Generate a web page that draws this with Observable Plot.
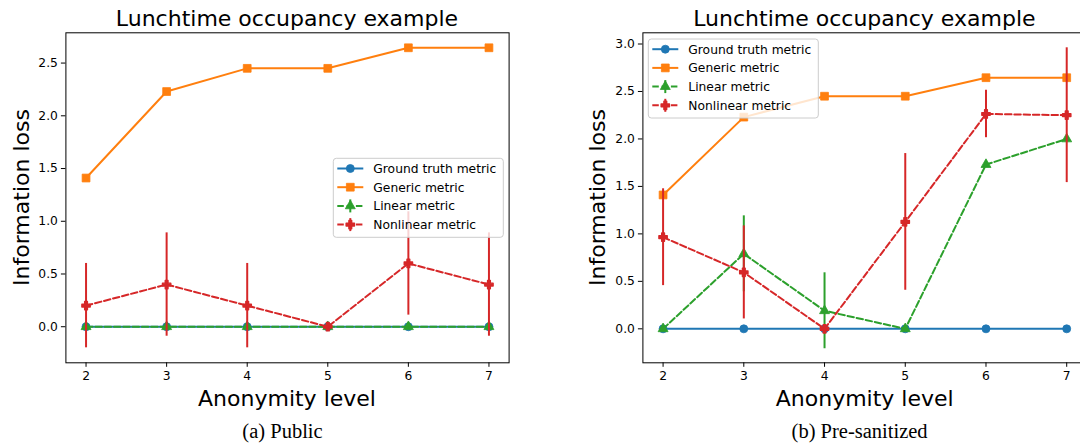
<!DOCTYPE html>
<html><head><meta charset="utf-8">
<script src="https://cdn.jsdelivr.net/npm/d3@7"></script>
<script src="https://cdn.jsdelivr.net/npm/@observablehq/plot@0.6"></script>
<style>
html,body{margin:0;padding:0;background:#fff;overflow:hidden;}
#wrap{position:relative;width:1080px;height:444px;overflow:hidden;font-family:"DejaVu Sans",sans-serif;}
.panel{position:absolute;top:0;height:444px;}
.panel svg{position:absolute;left:0;top:0;}
#overlay{position:absolute;left:0;top:0;pointer-events:none;}
</style></head>
<body><div id="wrap"></div>
<script>
// ---------- data ----------
const levels = [2, 3, 4, 5, 6, 7];
const seriesNames = ["Ground truth metric", "Generic metric", "Linear metric", "Nonlinear metric"];
const seriesColors = ["#1f77b4", "#ff7f0e", "#2ca02c", "#d62728"];
const seriesSymbols = ["circle", "square", "triangle", "cross"];
const seriesDashed = [false, false, true, true];
const seriesErrorBars = [false, false, true, true];

const chartTitle = "Lunchtime occupancy example";
const xLabel = "Anonymity level";
const yLabel = "Information loss";
const captions = ["(a) Public", "(b) Pre-sanitized"];

const yTicksPublic = [0, 0.5, 1, 1.5, 2, 2.5];
const yTicksPre = [0, 0.5, 1, 1.5, 2, 2.5, 3];

// (a) Public
const publicGround = [0, 0, 0, 0, 0, 0];
const publicGeneric = [1.41, 2.23, 2.45, 2.45, 2.645, 2.645];
const publicLinear = [0, 0, 0, 0, 0, 0];
const publicLinearErr = [0, 0, 0, 0, 0, 0];
const publicNonlinear = [0.2, 0.4, 0.2, 0, 0.6, 0.4];
const publicNonlinearErr = [0.4, 0.49, 0.4, 0, 0.49, 0.49];

// (b) Pre-sanitized
const preGround = [0, 0, 0, 0, 0, 0];
const preGeneric = [1.41, 2.23, 2.45, 2.45, 2.645, 2.645];
const preLinear = [0, 0.79, 0.19, 0, 1.73, 2.0];
const preLinearErr = [0, 0.4, 0.4, 0, 0, 0];
const preNonlinear = [0.965, 0.594, 0, 1.126, 2.263, 2.25];
const preNonlinearErr = [0.51, 0.49, 0, 0.72, 0.25, 0.71];

// ---------- layout ----------
const markerR = [4.0, 4.4, 3.7, 3.5];
const markerStroke = [0.8, 0.8, 0.8, 1.4];
const lineW = 2;
const dash = "6.5,2.8";

function rows(values, errs) {
  return levels.map((x, i) => ({x, y: values[i], err: errs ? errs[i] : 0}));
}

function makePanel(seriesRows, yDomain, yTicks, opts) {
  const marks = [];
  seriesRows.forEach((data, i) => {
    const col = seriesColors[i];
    if (seriesErrorBars[i]) {
      marks.push(Plot.ruleX(data.filter(d => d.err > 0), {
        x: "x", y1: d => d.y - d.err, y2: d => d.y + d.err,
        stroke: col, strokeWidth: lineW
      }));
    }
    marks.push(Plot.line(data, {
      x: "x", y: "y", stroke: col, strokeWidth: lineW,
      strokeDasharray: seriesDashed[i] ? dash : null
    }));
    marks.push(Plot.dot(data, {
      x: "x", y: "y", r: markerR[i], symbol: seriesSymbols[i],
      fill: col, stroke: col, strokeWidth: markerStroke[i], strokeLinejoin: "round"
    }));
  });
  marks.push(Plot.frame({stroke: "black", strokeWidth: 1}));
  marks.push(Plot.axisX({ticks: levels, tickFormat: d => String(d), tickSize: 4.5, tickPadding: 3.5, label: null}));
  marks.push(Plot.axisY({ticks: yTicks, tickFormat: d3.format(".1f"), tickSize: 4.5, tickPadding: 3.5, label: null}));
  return Plot.plot({
    width: opts.width, height: 444,
    marginLeft: opts.marginLeft, marginRight: opts.marginRight,
    marginTop: 32.3, marginBottom: 81.7,
    x: {domain: [1.75, 7.25]},
    y: {domain: yDomain},
    style: {background: "transparent", color: "#000", fontFamily: "DejaVu Sans", fontSize: "12.3px", overflow: "visible"},
    marks
  });
}

const wrap = document.getElementById("wrap");

const panelA = document.createElement("div");
panelA.className = "panel"; panelA.style.left = "0px"; panelA.style.width = "540px";
panelA.appendChild(makePanel(
  [rows(publicGround), rows(publicGeneric), rows(publicLinear, publicLinearErr), rows(publicNonlinear, publicNonlinearErr)],
  [-0.342, 2.787], yTicksPublic, {width: 540, marginLeft: 65.4, marginRight: 31.4}));
wrap.appendChild(panelA);

const panelB = document.createElement("div");
panelB.className = "panel"; panelB.style.left = "540px"; panelB.style.width = "560px";
panelB.appendChild(makePanel(
  [rows(preGround), rows(preGeneric), rows(preLinear, preLinearErr), rows(preNonlinear, preNonlinearErr)],
  [-0.358, 3.118], yTicksPre, {width: 560, marginLeft: 102.4, marginRight: 13.6}));
wrap.appendChild(panelB);

// ---------- overlay: titles, labels, captions, legends ----------
const svg = d3.select(wrap).append("svg").attr("id", "overlay").attr("width", 1080).attr("height", 444);

const panelsText = [
  {title: 287, xl: 287, yl: 28.6, cap: 282.5},
  {title: 864.4, xl: 864.7, yl: 605.4, cap: 859.6}
];
panelsText.forEach((p, k) => {
  svg.append("text").attr("x", p.title).attr("y", 25.5).attr("text-anchor", "middle")
    .attr("font-family", "DejaVu Sans").attr("font-size", 22).text(chartTitle);
  svg.append("text").attr("x", p.xl).attr("y", 405.5).attr("text-anchor", "middle")
    .attr("font-family", "DejaVu Sans").attr("font-size", 22).text(xLabel);
  svg.append("text").attr("transform", `translate(${p.yl},197.5) rotate(-90)`).attr("text-anchor", "middle")
    .attr("font-family", "DejaVu Sans").attr("font-size", 22).text(yLabel);
  svg.append("text").attr("x", p.cap).attr("y", 438).attr("text-anchor", "middle")
    .attr("font-family", "Liberation Serif, serif").attr("font-size", 20.5).text(captions[k]);
});

const symbolMap = {circle: d3.symbolCircle, square: d3.symbolSquare, triangle: d3.symbolTriangle, cross: d3.symbolCross};
function legend(x0, y0) {
  const g = svg.append("g").attr("transform", `translate(${x0},${y0})`);
  g.append("rect").attr("width", 170).attr("height", 79).attr("rx", 3)
    .attr("fill", "white").attr("fill-opacity", 0.8).attr("stroke", "#cccccc").attr("stroke-width", 1);
  seriesNames.forEach((name, i) => {
    const cy = 10.2 + i * 18.7;
    const col = seriesColors[i];
    const row = g.append("g").attr("transform", `translate(0,${cy})`);
    if (seriesErrorBars[i]) {
      row.append("line").attr("x1", 17).attr("x2", 17).attr("y1", -6.5).attr("y2", 6.5)
        .attr("stroke", col).attr("stroke-width", lineW);
    }
    row.append("line").attr("x1", 4).attr("x2", 30).attr("y1", 0).attr("y2", 0)
      .attr("stroke", col).attr("stroke-width", lineW)
      .attr("stroke-dasharray", seriesDashed[i] ? dash : null);
    row.append("path").attr("d", d3.symbol(symbolMap[seriesSymbols[i]], markerR[i] * markerR[i] * Math.PI)())
      .attr("transform", "translate(17,0)")
      .attr("fill", col).attr("stroke", col).attr("stroke-width", markerStroke[i]).attr("stroke-linejoin", "round");
    row.append("text").attr("x", 40).attr("y", 0).attr("dy", "0.35em")
      .attr("font-family", "DejaVu Sans").attr("font-size", 12.3).attr("fill", "#000").text(name);
  });
}
legend(333.3, 158.3);
legend(648.3, 39);
</script>
</body></html>
